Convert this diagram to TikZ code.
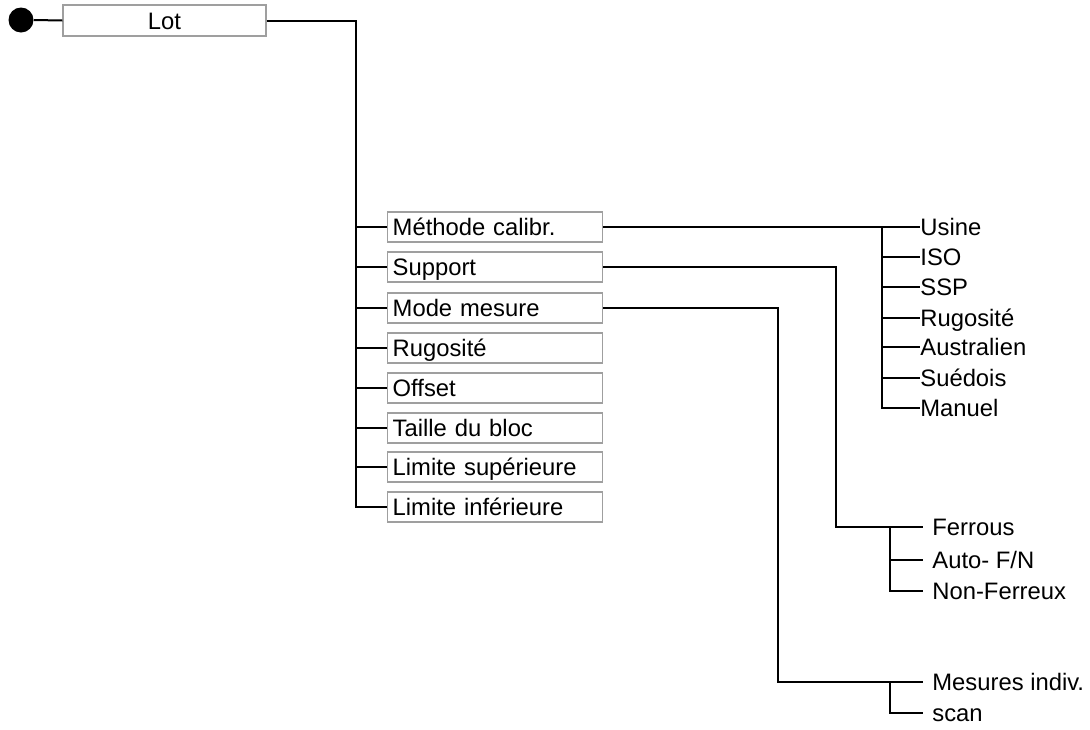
\documentclass[tikz,border=0pt]{standalone}
\usepackage{fontspec}
\setmainfont{Liberation Sans}
\usepackage{tikz}
\usetikzlibrary{positioning}

\tikzset{
conn/.style={line width=1pt},
lotbox/.style={draw=gray!75,line width=0.7pt,minimum width=101.5pt,minimum height=15.5pt,inner sep=0pt,text height=8.5pt,text depth=0pt,font=\fontsize{11.9}{14}\selectfont},
menubox/.style={draw=gray!75,line width=0.7pt,anchor=west,minimum height=15pt,text width=102.5pt,inner xsep=2.5pt,inner ysep=0pt,text height=8.5pt,text depth=0pt,font=\fontsize{11.9}{14}\selectfont},
calitem/.style={anchor=west,inner sep=0pt,text height=8.5pt,text depth=0pt,font=\fontsize{11.9}{14}\selectfont},
subitem/.style={calitem,inner xsep=4.5pt}
}

\begin{document}
\begin{tikzpicture}[x=0.5pt,y=-0.5pt]
\useasboundingbox (0,0) rectangle (1090,729);
% root
\node[circle,fill=black,minimum size=12.5pt,inner sep=0pt] (dot) at (21,20) {};
\node[lotbox] (lot) at (164.5,20.5) {Lot};
\draw[conn] (dot.east) -- (lot.west);
\coordinate (trunk) at (356,20);
% menu column
\node[menubox] (mc) at (387,227) {Méthode calibr.};
\node[menubox] (sup) at (387,267) {Support};
\node[menubox] (mm) at (387,308) {Mode mesure};
\node[menubox] (rug) at (387,348) {Rugosité};
\node[menubox] (off) at (387,388) {Offset};
\node[menubox] (tb) at (387,428) {Taille du bloc};
\node[menubox] (ls) at (387,467) {Limite supérieure};
\node[menubox] (li) at (387,507) {Limite inférieure};
\draw[conn] (lot.east) -| (trunk |- li.west) -- (li.west);
\draw[conn] (trunk |- mc.west) -- (mc.west);
\draw[conn] (trunk |- sup.west) -- (sup.west);
\draw[conn] (trunk |- mm.west) -- (mm.west);
\draw[conn] (trunk |- rug.west) -- (rug.west);
\draw[conn] (trunk |- off.west) -- (off.west);
\draw[conn] (trunk |- tb.west) -- (tb.west);
\draw[conn] (trunk |- ls.west) -- (ls.west);
% calibration methods
\node[calitem] (usine) at (920,227) {Usine};
\node[calitem] (iso) at (920,257) {ISO};
\node[calitem] (ssp) at (920,287) {SSP};
\node[calitem] (rugo) at (920,318) {Rugosité};
\node[calitem] (austr) at (920,347) {Australien};
\node[calitem] (sued) at (920,378) {Suédois};
\node[calitem] (manuel) at (920,408) {Manuel};
\coordinate (cbus) at (882,227);
\draw[conn] (mc.east) -- (usine.west);
\draw[conn] (cbus) |- (manuel.west);
\draw[conn] (cbus |- iso.west) -- (iso.west);
\draw[conn] (cbus |- ssp.west) -- (ssp.west);
\draw[conn] (cbus |- rugo.west) -- (rugo.west);
\draw[conn] (cbus |- austr.west) -- (austr.west);
\draw[conn] (cbus |- sued.west) -- (sued.west);
% support
\node[subitem] (ferrous) at (923,527) {Ferrous};
\node[subitem] (auto) at (923,560) {Auto- F/N};
\node[subitem] (nonfer) at (923,591) {Non-Ferreux};
\coordinate (sbend) at (836,527);
\coordinate (fbus) at (890,527);
\draw[conn] (sup.east) -| (sbend) -- (ferrous.west);
\draw[conn] (fbus) |- (nonfer.west);
\draw[conn] (fbus |- auto.west) -- (auto.west);
% measuring mode
\node[subitem] (mesind) at (923,682) {Mesures indiv.};
\node[subitem] (scan) at (923,713) {scan};
\coordinate (mbend) at (778,682);
\coordinate (mbus) at (890,682);
\draw[conn] (mm.east) -| (mbend) -- (mesind.west);
\draw[conn] (mbus) |- (scan.west);
\end{tikzpicture}
\end{document}
